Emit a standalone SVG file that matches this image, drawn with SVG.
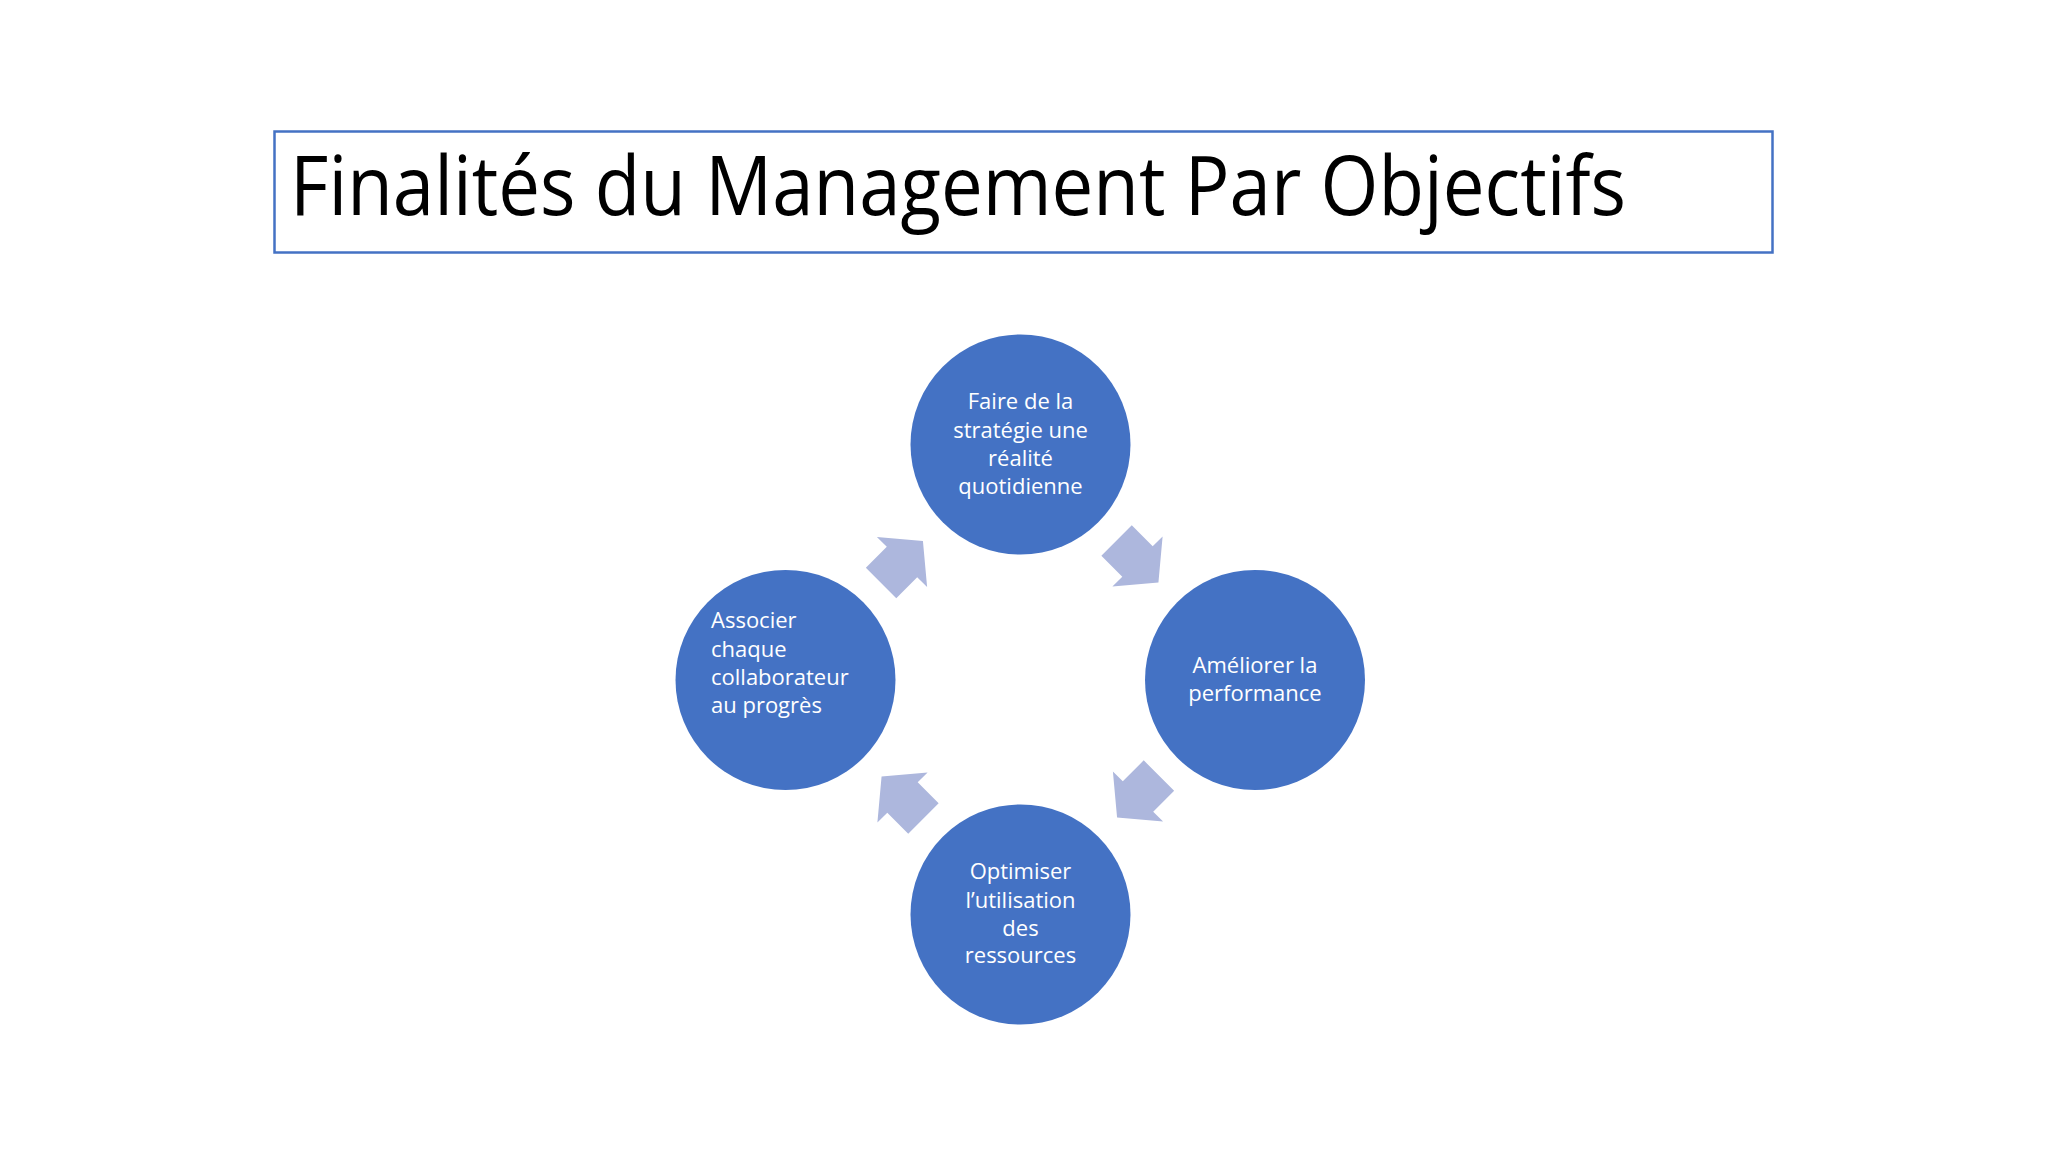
<svg xmlns="http://www.w3.org/2000/svg" xmlns:xlink="http://www.w3.org/1999/xlink" width="2048" height="1152" viewBox="0 0 2048 1152">
  <style>
    .title { font-family: "Open Sans", "Liberation Sans", sans-serif; font-size: 82px; fill: #000000; }
    .node circle { fill: #4472C4; }
    .lbl { font-family: "Open Sans", "Liberation Sans", sans-serif; font-size: 22px; fill: #FFFFFF; }
    .mid { text-anchor: middle; }
    .arrow { fill: #ADB7DD; }
  </style>
  <defs>
    <polygon id="cyc" points="-29.6,-21.5 0,-21.5 0,-35.5 29.6,0 0,35.5 0,21.5 -29.6,21.5"/>
  </defs>
  <rect x="0" y="0" width="2048" height="1152" fill="#FFFFFF"/>

  <g id="title">
    <rect x="274.5" y="131.5" width="1498" height="121" fill="none" stroke="#4472C4" stroke-width="2.5"/>
    <text class="title" x="290" y="214.5" textLength="1336" lengthAdjust="spacingAndGlyphs">Finalités du Management Par Objectifs</text>
  </g>

  <g id="connectors" class="arrow">
    <use xlink:href="#cyc" href="#cyc" transform="translate(1137.5,561.5) rotate(45)"/>
    <use xlink:href="#cyc" href="#cyc" transform="translate(1138,796.5) rotate(135)"/>
    <use xlink:href="#cyc" href="#cyc" transform="translate(902.5,797.5) rotate(225)"/>
    <use xlink:href="#cyc" href="#cyc" transform="translate(902,562) rotate(-45)"/>
  </g>

  <g id="node-strategie" class="node">
    <circle cx="1020.5" cy="444.5" r="110"/>
    <text class="lbl mid" x="1020.5" y="409">Faire de la</text>
    <text class="lbl mid" x="1020.5" y="437.7">stratégie une</text>
    <text class="lbl mid" x="1020.5" y="466">réalité</text>
    <text class="lbl mid" x="1020.5" y="494">quotidienne</text>
  </g>

  <g id="node-performance" class="node">
    <circle cx="1255" cy="680" r="110"/>
    <text class="lbl mid" x="1255" y="672.7">Améliorer la</text>
    <text class="lbl mid" x="1255" y="701">performance</text>
  </g>

  <g id="node-ressources" class="node">
    <circle cx="1020.5" cy="914.5" r="110"/>
    <text class="lbl mid" x="1020.5" y="879">Optimiser</text>
    <text class="lbl mid" x="1020.5" y="907.7">l’utilisation</text>
    <text class="lbl mid" x="1020.5" y="935.7">des</text>
    <text class="lbl mid" x="1020.5" y="963.3">ressources</text>
  </g>

  <g id="node-collaborateur" class="node">
    <circle cx="785.5" cy="680" r="110"/>
    <text class="lbl" x="711" y="628.3">Associer</text>
    <text class="lbl" x="711" y="656.7">chaque</text>
    <text class="lbl" x="711" y="685">collaborateur</text>
    <text class="lbl" x="711" y="713.3">au progrès</text>
  </g>
</svg>
